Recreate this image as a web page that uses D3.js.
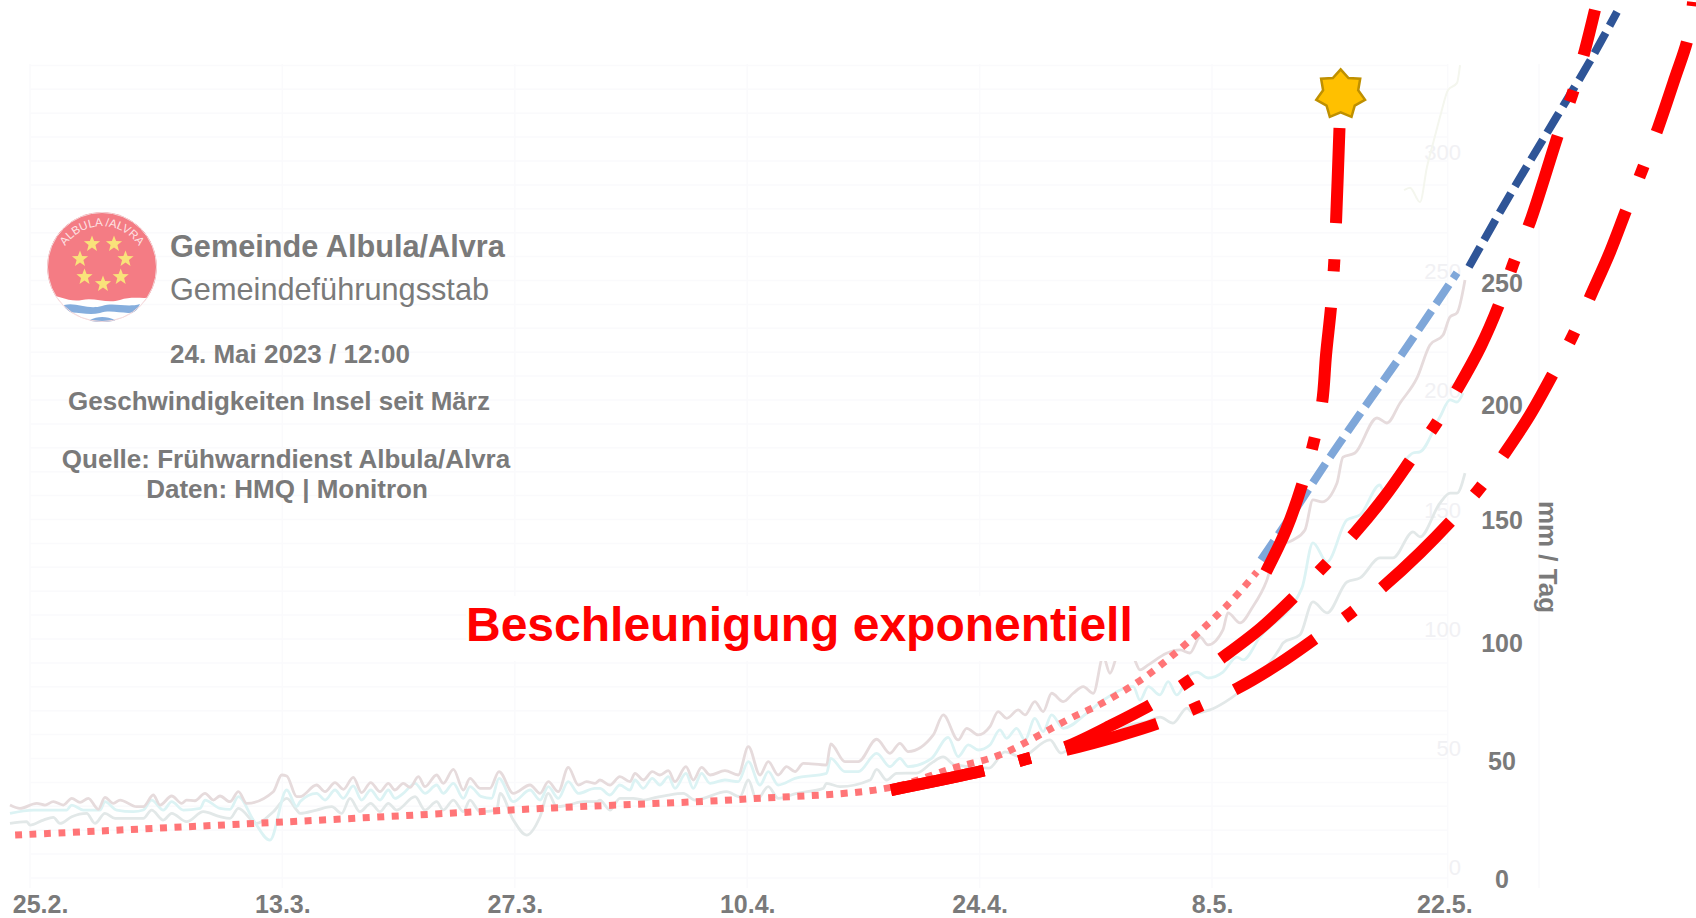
<!DOCTYPE html>
<html><head><meta charset="utf-8">
<script src="https://cdn.jsdelivr.net/npm/d3@7"></script>
<style>
html,body{margin:0;padding:0;background:#fff;overflow:hidden}
svg{display:block}
text{font-family:"Liberation Sans",Arial,sans-serif}
</style></head><body><svg id="c" width="1696" height="918"></svg>
<script>
// ---- data (days counted from 27 Feb 2023; values in mm / Tag) ----
const roseDays = [-2.41,-1.81,-.8,-.3,.2,.8,1.31,1.81,2.31,2.91,3.31,3.82,4.22,5.22,5.62,6.22,6.63,7.33,7.93,8.23,8.73,9.34,9.84,10.24,10.84,11.35,11.85,13.45,13.96,14.26,14.86,
 15.06,16.06,16.57,17.17,17.67,18.27,18.77,19.32,19.88,20.38,20.78,21.28,21.69,22.19,22.59,23.29,23.69,24.3,24.9,25.3,25.9,26.5,27.05,27.91,28.92,29.52,30.02,30.62,31.22,31.83,32.33,32.83,
 33.13,33.73,34.33,34.94,35.24,35.74,36.28,36.74,37.25,37.65,38.31,38.75,39.25,39.76,40.66,41.46,42.07,42.77,43.27,43.87,44.37,44.88,45.38,46.78,47.03,47.89,48.69,49.8,50.6,51.2,
 51.7,53.21,53.81,54.71,55.22,55.92,56.62,57.12,57.63,58.33,58.73,59.33,59.83,60.34,61.04,61.64,62.24,62.85,63.45,63.85,64.35,65.26,65.66,66.16,67.26,
 68.07,68.67,69.28,69.76,70.66,70.96,71.69,72.41,73.31,73.92,74.88,75.6,76.08,76.63,77.53,77.89,78.61,79.94,80.54,81.33,82.35,83.13,83.92,84.34,84.76,85.24];
const roseVals = [26,24.6,26.7,26,27.4,26,28.8,27.1,28.8,24.2,29.2,26.7,28.1,25.3,25.3,30.2,26,29.8,26.7,28.1,27.8,30.9,28.1,29.8,27.4,31.6,26.7,31.6,38.6,38.2,29.5,
 29.5,34.4,31.6,35.4,32.6,37.6,31.2,35.4,31.6,35.1,32.3,35.1,33.4,37.9,33.7,38.6,35.1,41,32.3,37.2,33,33,40,30.9,34.4,30.9,35.8,31.6,41.8,34.4,35.8,35.1,
 36.5,34.4,37.9,35.8,39.3,36.5,40,38.6,40.4,35.8,42.1,36.5,41.8,38.6,40.4,38.6,50.5,38.6,44.2,38.6,42.1,40,43.5,42.8,51.6,44.2,44.2,53.6,47.7,51.9,
 48.4,55.4,63.8,53.3,58.2,55.4,58.9,65.2,62.4,65.9,63.8,69.4,65.2,72.9,69.4,72.9,75.7,72.9,88.3,81.3,89,87.6,82.7,84.8,89.7,
 91.1,89.8,96.5,93.2,99.5,106.6,102.4,108.7,120.4,134.3,137.2,141.4,154,153.2,161.1,172,173.7,188.4,186.3,194.7,205.2,219,223.2,230.8,232.5,246.3];
const cyanDays = [-2.41,-1,0,1,1.31,2.01,3.01,3.31,4.02,5.02,5.62,6.12,6.83,7.33,8.03,9.04,9.34,10.24,10.84,11.35,12.25,13.25,14.26,14.86,
 15.06,16.06,16.57,17.17,17.67,18.27,18.77,19.32,19.88,20.38,20.78,21.28,21.99,22.59,23.29,23.69,24.3,24.9,25.3,26,26.6,27.05,27.91,28.92,29.52,30.02,30.62,31.22,31.83,32.83,
 33.13,33.73,34.33,34.94,35.24,35.74,36.28,36.74,37.25,37.65,38.31,38.75,39.25,39.76,40.66,41.46,42.07,42.77,43.27,43.87,44.88,46.78,47.03,47.89,48.69,49.8,50.6,51.2,
 51.7,53.11,54.11,54.71,55.32,55.92,56.62,57.22,57.63,58.23,58.73,59.33,59.83,60.34,61.04,62.45,63.45,65.26,65.66,66.16,66.86,67.36,67.87,68.67,
 69.1,69.76,70.66,71.5,71.87,72.89,75.42,76.08,76.93,78.13,78.92,80.12,80.3,82.11,82.53,83.73,84.34,84.76,85.12];
const cyanVals = [22.5,23.9,23.9,23.9,26,23.9,23.9,27.4,23.9,23.2,23.9,28.1,23.9,27.4,23.9,24.6,28.1,24.6,24.2,29.5,19.7,11.3,32.3,25.3,
 27.4,30.9,28.1,32.3,28.8,34,28.1,32.3,28.1,32.3,28.8,30.9,35.1,30.9,34.4,30.9,35.1,28.8,33.7,29.5,28.8,37.2,27.4,32.3,28.1,33.7,28.8,35.8,30.9,33,
 33,30.2,34.4,32.3,36.5,33,37.2,34.4,37.9,33,39.3,33,39.3,35.1,36.5,35.8,44.2,34.4,40,34.4,37.2,39.3,45.6,40,40,47.7,42.1,45.6,
 42.1,45.6,54.4,46.3,51.2,49.1,51.2,57.5,54,58.2,53.3,62.4,56.8,63.8,58.2,64.5,70,75.7,70,75.7,72.2,77.8,72.2,80.6,
 81.8,79.3,81.8,88.1,86.9,96.5,117.1,136,128,145.6,147.7,160.3,158.2,173.7,174.2,188.8,196,195.1,198.9];
const greyDays = [-2.41,-1.41,-1.2,-.4,.2,.6,1.31,2.21,2.71,3.31,3.92,5.62,6.12,6.83,7.33,8.23,9.24,10.24,10.84,11.35,12.45,13.45,14.26,14.86,
 15.06,16.06,16.97,17.57,18.07,18.67,19.32,19.88,20.38,20.88,21.99,22.59,23.29,23.69,24.3,24.9,25.3,25.9,26.91,27.11,27.91,28.71,29.52,30.02,30.52,31.22,32.13,32.93,
 33.13,33.73,34.33,35.14,35.74,36.28,37.25,38.15,38.85,40.76,41.56,42.07,42.57,43.27,43.87,44.98,46.58,46.78,47.59,49.4,49.8,50.4,51,
 52.2,53.1,53.8,54.5,56.57,57.53,58.49,60.24,60.9,62,63,64,65,66,66.87,67.65,68.49,68.86,69.88,70.78,71.57,74.1,74.28,75.3,76.08,76.93,78.13,78.92,80.12,80.9,82.11,82.53,83.73,84.34,84.76,85.24];
const greyVals = [18.3,19,17.6,19.7,20.8,18.3,21.1,22.5,18.3,22.5,20.4,20.4,23.9,19.7,22.5,19,23.2,21.1,20.4,24.6,18.3,23.2,28.8,23.9,
 22.5,23.9,25.3,22.5,28.8,23.2,26.7,23.2,26.7,23.9,29.5,23.9,27.4,23.9,28.1,23.2,28.1,23.2,23.9,30.9,19.7,13.4,21.1,30.9,25.3,26,27.4,27.4,
 28.1,23.9,28.8,28.8,28.1,28.8,30.2,30.9,28.1,31.6,29.5,36.5,28.1,33.7,28.8,30.9,33,35.1,33.7,36.5,41,36.5,39.3,
 39.4,43.6,46.2,42.8,41.5,48.3,46.2,53.3,47.8,52.5,51.2,55.4,59.6,60.8,62.9,60.4,66.7,64.6,65.9,69.2,73,91.9,94,97.4,111.2,106.6,119.6,121.3,129.7,129.7,140.6,138.5,152.7,156.9,156.9,165.3];
const paleDays = [81.57,81.93,82.53,82.95,83.37,83.8,84.22,84.76,84.94];
const paleSeries = [284,285,279,293.7,305,316.4,326,329,336.5];

const dottedDays = [-2.1,14.1,30.3,41.9,50.5,54.4,57.2,61.5,63.4,66.3,70.8,72.7];
const dottedVals = [13.4,18.9,24.8,28.5,33.2,41.5,47,62.5,68.8,81.4,109,123.8];
const fast1Days = [73.25,74.46,75.42,76.08,76.63,76.87,77.17,77.35,77.47,77.68];
const fast1Vals = [123.8,141.4,160.3,177,194.7,214.9,235,252.2,270.2,310.1];
const fast2Days = [50.66,56.39,58.8,61.2,63.86,66.39,68.61,70.66,72.95,75,76.81,78.61,80.48,82.05,83.49,84.82,86.2,87.35,88.19,89.16,90.9,91.75,92.47,93.07];
const fast2Vals = [32.3,40.7,45.3,50.4,59.2,68.4,78.1,88.1,100.3,113.7,126.7,140.2,156.1,171.6,185.9,201,218.6,237.1,253.9,270.7,308.4,325.2,342.8,359.6];
const fast3Days = [50.66,56.39,58.8,61.2,64.16,66.81,69.16,71.57,74.1,76.27,78.37,80.36,82.53,84.46,86.14,87.65,89.16,90.6,91.75,92.83,93.98,95,95.96,96.87,97.89,98.67,98.98];
const fast3Vals = [32.3,40.7,45.3,49.1,54.6,60.4,67.1,75.1,85.6,96.1,106.6,117.9,131.8,145.6,159,173.7,189.7,207.7,223.2,240,258.1,276.5,293.3,310.1,331.1,347.9,363];
const lightBlueDays = [72.95,75,76.99,79.04,81.33,84.76];
const lightBlueVals = [128.8,149.8,170.8,191.4,214,249.3];
const darkBlueDays = [85.48,87.77,90.72,92.71,94.4];
const darkBlueVals = [251.8,279.9,314.3,337.4,358.8];
const failureDay = 77.75, failureVal = 324.2;

const xTickDays = [-0.6,14,28,42,56,70,84];
const xTickLabels = ["25.2.","13.3.","27.3.","10.4.","24.4.","8.5.","22.5."];
const yTicks = [0,50,100,150,200,250];
const ghostTicks = [0,50,100,150,200,250,300];
const gridValues = d3.range(0,350,10);
const gridDays = [-1.2,14,28,42,56,70,84.2,89.7];

// ---- scales ----
const x = d3.scaleLinear().domain([0,84]).range([50,1444.4]);
const y = d3.scaleLinear().domain([0,300]).range([867,152]);
const yBold = d3.scaleLinear().domain([0,50,100,150,200,250]).range([879,761,643,520,405,283]);
const yGrid = d3.scaleLinear().domain([0,250]).range([878,280.5]);

const svg = d3.select("#c");
const grey = "#7a7a7a";

// grid
const grid = svg.append("g").attr("stroke","#fafafc").attr("stroke-width",1.5);
grid.selectAll("line.h").data(gridValues).join("line").attr("class","h")
  .attr("x1",30).attr("x2",x(84.2)).attr("y1",d=>yGrid(d)).attr("y2",d=>yGrid(d));
grid.selectAll("line.v").data(gridDays).join("line").attr("class","v")
  .attr("x1",d=>x(d)).attr("x2",d=>x(d)).attr("y1",64).attr("y2",888);

// ghost labels
svg.append("g").selectAll("text").data(ghostTicks).join("text")
  .attr("x",1461).attr("y",d=>y(d)+8).attr("text-anchor","end")
  .attr("font-size",22).attr("fill","#f1f1f4").text(d=>d);

// faint lines
const line = d3.line().x(d=>x(d[0])).y(d=>y(d[1])).curve(d3.curveMonotoneX);
const faint = (ds,vs,c,w)=>svg.append("path").attr("d",line(ds.map((d,i)=>[d,vs[i]])))
  .attr("fill","none").attr("stroke",c).attr("stroke-width",w);
faint(greyDays,greyVals,"#e2e8e8",2.8);
faint(cyanDays,cyanVals,"#dcf3f4",2.8);
faint(roseDays,roseVals,"#e6dbdc",2.8);
faint(paleDays,paleSeries,"#f4f6ee",2);

// title mask
svg.append("rect").attr("x",466).attr("y",596).attr("width",684).attr("height",65).attr("fill","#fff");

// fitted curves
const smooth = d3.line().x(d=>x(d[0])).y(d=>y(d[1])).curve(d3.curveCatmullRom.alpha(0.5));
const curve = (ds,vs,c,w,dash)=>svg.append("path").attr("d",smooth(ds.map((d,i)=>[d,vs[i]])))
  .attr("fill","none").attr("stroke",c).attr("stroke-width",w).attr("stroke-dasharray",dash);
curve(lightBlueDays,lightBlueVals,"#7fa7d9",8,"23,8");
curve(darkBlueDays,darkBlueVals,"#2f5597",8,"23,8");
curve(dottedDays,dottedVals,"#ff7577",7,"7,7.5");
const dashDot = "95,36.3,12,36.3";
curve(fast1Days,fast1Vals,"#ff0000",12,dashDot);
curve(fast2Days,fast2Vals,"#ff0000",12,dashDot);
curve(fast3Days,fast3Vals,"#ff0000",12,dashDot);

// failure star
const starPts = d3.range(14).map(i=>{const r=i%2?18:25,a=i*Math.PI/7;return [r*Math.sin(a),-r*Math.cos(a)];});
svg.append("path").attr("transform",`translate(${x(failureDay)},${y(failureVal)})`)
  .attr("d",d3.line()(starPts)+"Z").attr("fill","#ffc000").attr("stroke","#bf9000").attr("stroke-width",2.5);

// axes
const xAxis = d3.axisBottom(x).tickValues(xTickDays).tickSize(0).tickPadding(0)
  .tickFormat((d,i)=>xTickLabels[i]);
const gx = svg.append("g").attr("transform","translate(0,895)").call(xAxis);
gx.select(".domain").remove();
gx.selectAll("text").attr("font-size",25).attr("font-weight","bold").attr("fill",grey).style("font-family",'"Liberation Sans"');
const yAxis = d3.axisRight(yBold).tickValues(yTicks).tickSize(0).tickPadding(0).tickFormat(d=>d);
const gy = svg.append("g").attr("transform","translate(1502,0)").call(yAxis);
gy.select(".domain").remove();
gy.selectAll("text").attr("font-size",25).attr("font-weight","bold").attr("fill",grey).attr("text-anchor","middle").style("font-family",'"Liberation Sans"');
svg.append("text").attr("transform","translate(1539,557) rotate(90)").attr("text-anchor","middle")
  .attr("font-size",26).attr("font-weight","bold").attr("fill",grey).text("mm / Tag");

// title
svg.append("text").attr("x",466).attr("y",641).attr("font-size",48).attr("font-weight","bold").attr("fill","#ff0000").text("Beschleunigung exponentiell");

// info block
const info = [
 ["Gemeinde Albula/Alvra",170,257,"start",30.7,"bold"],
 ["Gemeindeführungsstab",170,300,"start",30.7,"normal"],
 ["24. Mai 2023 / 12:00",290,363,"middle",26,"bold"],
 ["Geschwindigkeiten Insel seit März",279,410,"middle",26,"bold"],
 ["Quelle: Frühwarndienst Albula/Alvra",286,468,"middle",26,"bold"],
 ["Daten: HMQ | Monitron",287,498,"middle",26,"bold"]];
svg.append("g").selectAll("text").data(info).join("text")
  .attr("x",d=>d[1]).attr("y",d=>d[2]).attr("text-anchor",d=>d[3]).attr("font-size",d=>d[4]).attr("font-weight",d=>d[5])
  .attr("fill",grey).text(d=>d[0]);

// logo
const logo = svg.append("g").attr("transform","translate(102,267)");
const defs = svg.append("defs");
defs.append("clipPath").attr("id","lc").append("circle").attr("r",55);
defs.append("path").attr("id","arc").attr("d","M-41.3,-12 A44,44 0 0 1 41.3,-12");
const lg = logo.append("g").attr("clip-path","url(#lc)");
lg.append("circle").attr("r",55).attr("fill","#f47c84");
lg.append("path").attr("fill","#fff").attr("d","M-60,28 C-45,26 -35,36 -20,33 C-8,30 5,37 18,33 C32,28 45,34 60,28 V60 H-60Z");
lg.append("path").attr("fill","#86aedd").attr("d","M-38,38 C-25,35 -15,43 0,39 C12,35 25,41 38,37 L34,45 C22,48 10,42 -2,46 C-15,49 -25,44 -36,46Z");
lg.append("path").attr("fill","#86aedd").attr("d","M-12,53 C-5,49 5,49 13,53 V56 H-12Z");
logo.append("circle").attr("r",54.5).attr("fill","none").attr("stroke","#f3d9db").attr("stroke-width",1);
logo.append("text").attr("font-size",11.5).attr("fill","#fde3e4").append("textPath").attr("href","#arc").attr("startOffset","50%").attr("text-anchor","middle").text("ALBULA /ALVRA");
const starGen = d3.range(10).map(i=>{const r=i%2?3.6:8.5,a=i*Math.PI/5;return [r*Math.sin(a),-r*Math.cos(a)];});
const logoStars = [[-10,-23],[12,-23],[-22,-8],[23.5,-8],[-17.5,10],[18.7,10],[1,17]];
logo.selectAll("path.s").data(logoStars).join("path").attr("class","s")
  .attr("transform",d=>`translate(${d[0]},${d[1]})`).attr("d",d3.line()(starGen)+"Z").attr("fill","#f9e27a");
</script></body></html>
